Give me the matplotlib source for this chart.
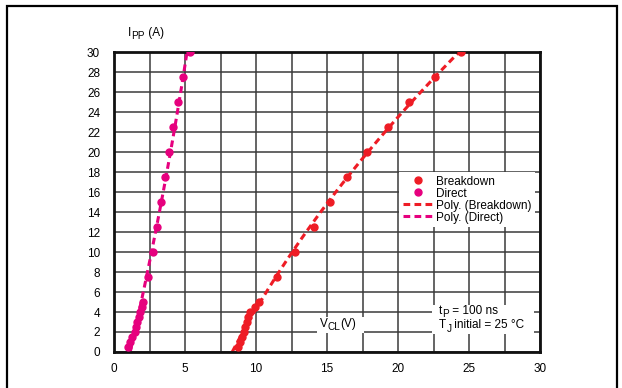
"""Clamping current vs clamping voltage (IPP vs VCL), redrawn with matplotlib."""
import matplotlib

matplotlib.use("Agg")
import matplotlib.pyplot as plt  # noqa: E402
import numpy as np  # noqa: E402
from matplotlib.patches import Rectangle  # noqa: E402

RED = "#EE1C25"
MAGENTA = "#E6007E"
GRID = "#3a3a3a"

ipp = [0.5, 1, 1.5, 2, 2.5, 3, 3.5, 4, 4.5, 5, 7.5, 10, 12.5, 15, 17.5, 20, 22.5, 25, 27.5, 30]
v_direct = [1.0, 1.15, 1.3, 1.45, 1.55, 1.65, 1.75, 1.85, 1.95, 2.05,
            2.41, 2.72, 3.02, 3.28, 3.59, 3.85, 4.17, 4.5, 4.83, 5.35]
v_breakdown = [8.7, 8.85, 9.0, 9.15, 9.25, 9.35, 9.45, 9.6, 9.9, 10.2,
               11.45, 12.75, 14.05, 15.2, 16.4, 17.8, 19.3, 20.8, 22.6, 24.4]

x_ticks = [0, 5, 10, 15, 20, 25, 30]
y_ticks = list(range(0, 31, 2))

FS = 8.5
SUB = 7.2

plt.rcParams.update({
    "font.family": ["Liberation Sans", "DejaVu Sans"],
    "font.size": FS,
})

fig = plt.figure(figsize=(6.22, 3.88), dpi=100)
ax = fig.add_axes([0.1833, 0.0928, 0.685, 0.773])


def sub_text(ax, x, y, parts, transform=None):
    """Write text with subscripts: parts is a list of (text, is_subscript)."""
    prev = None
    for txt, is_sub in parts:
        size = SUB if is_sub else FS
        dy = -1.6 if is_sub else 0
        if prev is None:
            prev = ax.text(x, y, txt, fontsize=size, ha="left", va="bottom",
                           transform=transform or ax.transData, zorder=6)
        else:
            # keep baseline: subscripts sit lower, normal text back up
            prev = ax.annotate(txt, xy=(1, 0), xycoords=prev, xytext=(0, dy - prev._sub_dy),
                               textcoords="offset points", fontsize=size,
                               ha="left", va="bottom", zorder=6)
        prev._sub_dy = dy
    return prev


# polynomial trend lines (V as a function of I, 2nd order)
yy = np.linspace(0, 30, 100)
fit_b = np.polyval(np.polyfit(ipp, v_breakdown, 2), yy)
fit_d = np.polyval(np.polyfit(ipp, v_direct, 2), yy)

ax.plot(v_breakdown, ipp, "o", color=RED, ms=5, label="Breakdown", zorder=3)
ax.plot(v_direct, ipp, "o", color=MAGENTA, ms=5, label="Direct", zorder=3)
ax.plot(fit_b, yy, color=RED, lw=2.2, dashes=(2.2, 1.4), label="Poly. (Breakdown)", zorder=2)
ax.plot(fit_d, yy, color=MAGENTA, lw=2.2, dashes=(2.2, 1.4), label="Poly. (Direct)", zorder=2)

ax.set_xlim(0, 30)
ax.set_ylim(0, 30)
ax.set_xticks(x_ticks)
ax.set_xticks(np.arange(2.5, 30, 5), minor=True)
ax.set_yticks(y_ticks)
ax.tick_params(which="both", length=0, labelsize=FS)
ax.tick_params(axis="y", pad=10)
ax.tick_params(axis="x", pad=8)
ax.grid(True, which="both", color=GRID, lw=1.1)
ax.set_axisbelow(True)
for s in ax.spines.values():
    s.set_linewidth(2)
    s.set_color("#111111")

leg = ax.legend(loc="upper left", bbox_to_anchor=(0.67, 0.60), frameon=True,
                fancybox=False, framealpha=1, edgecolor="white", fontsize=FS,
                handlelength=2.6, handletextpad=0.2, labelspacing=0.0,
                borderpad=0.3, borderaxespad=0)
leg.get_frame().set_linewidth(0)

# white patches behind the in-plot notes
ax.add_patch(Rectangle((14.3, 1.9), 3.3, 1.6, facecolor="white", edgecolor="none", zorder=5))
ax.add_patch(Rectangle((22.4, 1.8), 7.2, 2.9, facecolor="white", edgecolor="none", zorder=5))

sub_text(ax, 0.033, 1.045, [("I", False), ("PP", True), (" (A)", False)], transform=ax.transAxes)
sub_text(ax, 14.5, 2.2, [("V", False), ("CL", True), ("(V)", False)])
sub_text(ax, 22.9, 3.5, [("t", False), ("P", True), (" = 100 ns", False)])
sub_text(ax, 22.9, 2.05, [("T", False), ("J", True), (" initial = 25 °C", False)])

# outer frame of the figure box
fig.patches.append(Rectangle((7 / 622, -0.02), 610 / 622, 1.005, transform=fig.transFigure,
                             fill=False, edgecolor="black", lw=1.6))

fig.savefig("out.png", dpi=100)
